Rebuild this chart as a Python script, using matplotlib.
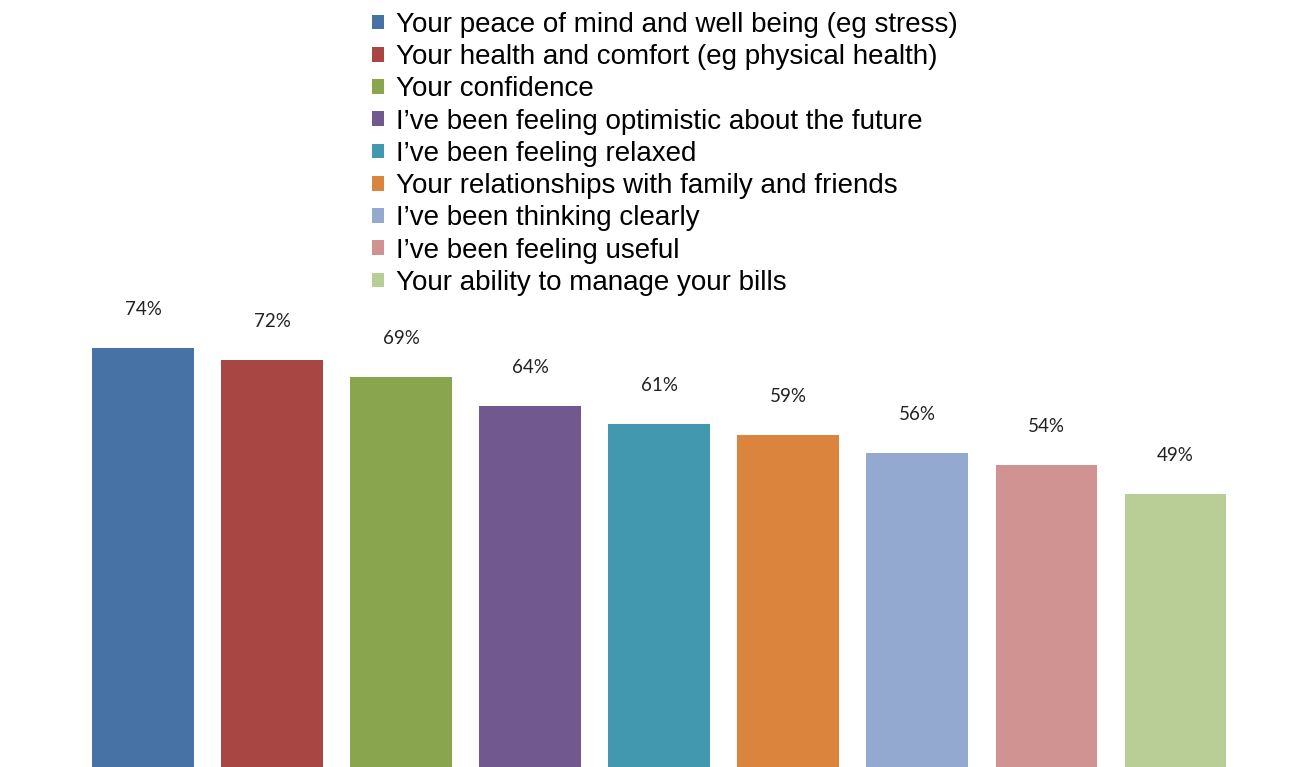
import matplotlib.pyplot as plt
from matplotlib.patches import Patch

categories = [
    "Your peace of mind and well being (eg stress)",
    "Your health and comfort (eg physical health)",
    "Your confidence",
    "I\u2019ve been feeling optimistic about the future",
    "I\u2019ve been feeling relaxed",
    "Your relationships with family and friends",
    "I\u2019ve been thinking clearly",
    "I\u2019ve been feeling useful",
    "Your ability to manage your bills",
]
values = [74, 72, 69, 64, 61, 59, 56, 54, 49]
colors = ["#4672A6", "#A84644", "#89A54E", "#71588F", "#4198AF",
          "#DB843D", "#93A9CF", "#D19392", "#B9CD96"]

fig = plt.figure(figsize=(13.11, 7.67), dpi=100)
ax = fig.add_axes([0, 0, 1, 1])

x = range(len(values))
bars = ax.bar(x, values, width=0.79, color=colors)

for xi, v in zip(x, values):
    ax.text(xi, v + 6.6, f"{v}%", ha="center", va="center",
            fontsize=13.5, family=["Lato", "DejaVu Sans"], color="#222222")

ax.set_xlim(-1.11, 9.05)
ax.set_ylim(2.2, 133.6)
ax.axis("off")

handles = [Patch(facecolor=c, edgecolor="none") for c in colors]
fig.legend(handles, categories, loc="upper left",
           bbox_to_anchor=(358 / 1311, 1 + 2 / 767),
           frameon=False, handlelength=0.45, handleheight=0.45,
           handletextpad=0.42, labelspacing=0.225, borderpad=0,
           prop={"family": "Liberation Sans", "size": 20})

plt.savefig("out.png", dpi=100)
